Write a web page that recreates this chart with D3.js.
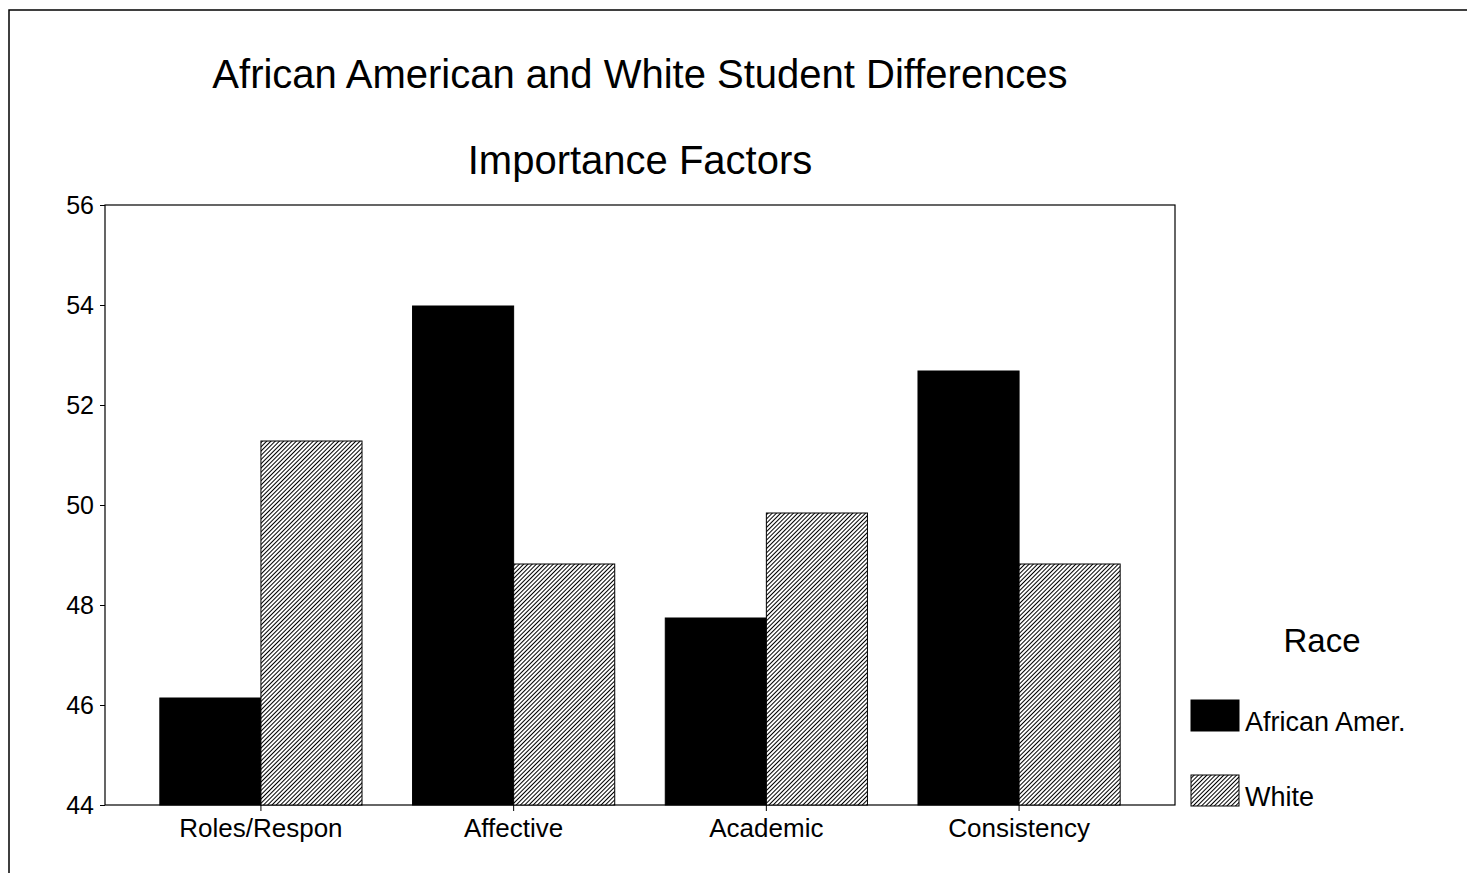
<!DOCTYPE html>
<html>
<head>
<meta charset="utf-8">
<script src="https://cdn.jsdelivr.net/npm/d3@7"></script>
<style>
  body { margin: 0; background: #fff; }
  svg { display: block; font-family: "Liberation Sans", Arial, sans-serif; }
</style>
</head>
<body>
<svg id="chart" width="1467" height="873"></svg>
<script>
// data
const categories = ['Roles/Respon', 'Affective', 'Academic', 'Consistency']
const series = ['African Amer.', 'White']
const africanAmer = [46.14, 53.98, 47.74, 52.68]
const white = [51.28, 48.82, 49.84, 48.82]
const yTicks = [44, 46, 48, 50, 52, 54, 56]

const svg = d3.select('#chart')
const plot = { left: 105, right: 1175, top: 205, bottom: 805 }
const font = '"Liberation Sans", Arial, sans-serif'

// hatch pattern for White
const defs = svg.append('defs')
const pat = defs.append('pattern')
  .attr('id', 'hatch')
  .attr('patternUnits', 'userSpaceOnUse')
  .attr('width', 3).attr('height', 3)
  .attr('patternTransform', 'rotate(45)')
pat.append('rect').attr('width', 3).attr('height', 3).attr('fill', '#fff')
pat.append('line')
  .attr('x1', 0.5).attr('y1', -1).attr('x2', 0.5).attr('y2', 4)
  .attr('stroke', '#000').attr('stroke-width', 1)

// outer frame (only left and top edges visible)
svg.append('path')
  .attr('d', 'M9,873 L9,10 L1467,10')
  .attr('fill', 'none').attr('stroke', '#000').attr('stroke-width', 1.5)

svg.append('text')
  .attr('x', 640).attr('y', 88)
  .attr('text-anchor', 'middle')
  .attr('font-size', 40)
  .text('African American and White Student Differences')

svg.append('text')
  .attr('x', 640).attr('y', 174)
  .attr('text-anchor', 'middle')
  .attr('font-size', 40)
  .text('Importance Factors')

const x0 = d3.scaleBand()
  .domain(categories)
  .range([plot.left, plot.right])
  .paddingInner(0.2)
  .paddingOuter(0.217)

const x1 = d3.scaleBand()
  .domain(series)
  .range([0, x0.bandwidth()])

const y = d3.scaleLinear()
  .domain([44, 56])
  .range([plot.bottom, plot.top])

const color = d3.scaleOrdinal().domain(series).range(['#000', 'url(#hatch)'])

// plot box
svg.append('rect')
  .attr('x', plot.left).attr('y', plot.top)
  .attr('width', plot.right - plot.left).attr('height', plot.bottom - plot.top)
  .attr('fill', 'none').attr('stroke', '#000').attr('stroke-width', 1.2)

const rows = categories.map((c, i) => ({ cat: c, vals: [africanAmer[i], white[i]] }))

svg.append('g').selectAll('g')
  .data(rows)
  .join('g')
  .attr('transform', d => `translate(${x0(d.cat)},0)`)
  .selectAll('rect')
  .data(d => d.vals.map((v, j) => ({ key: series[j], v })))
  .join('rect')
  .attr('x', d => x1(d.key))
  .attr('y', d => y(d.v))
  .attr('width', x1.bandwidth())
  .attr('height', d => y(44) - y(d.v))
  .attr('fill', d => color(d.key))
  .attr('stroke', '#000')
  .attr('stroke-width', 1)

// axes
const yAxis = svg.append('g')
  .attr('transform', `translate(${plot.left},0)`)
  .call(d3.axisLeft(y).tickValues(yTicks).tickSize(5).tickPadding(6))
yAxis.select('.domain').remove()
yAxis.selectAll('text').attr('font-size', 25).attr('fill', '#000')
  .attr('font-family', font)

const xAxis = svg.append('g')
  .attr('transform', `translate(0,${plot.bottom})`)
  .call(d3.axisBottom(x0).tickSize(6).tickPadding(8))
xAxis.select('.domain').remove()
xAxis.selectAll('text').attr('font-size', 26).attr('fill', '#000')
  .attr('font-family', font)

// legend
const legend = svg.append('g')
legend.append('text')
  .attr('x', 1322).attr('y', 652)
  .attr('text-anchor', 'middle')
  .attr('font-size', 33)
  .text('Race')

series.forEach((s, i) => {
  const ly = 700 + i * 75
  legend.append('rect')
    .attr('x', 1191).attr('y', ly)
    .attr('width', 48).attr('height', 31)
    .attr('fill', color(s))
    .attr('stroke', '#000').attr('stroke-width', 1)
  legend.append('text')
    .attr('x', 1245).attr('y', ly + 31)
    .attr('font-size', 27)
    .text(s)
})
</script>
</body>
</html>
